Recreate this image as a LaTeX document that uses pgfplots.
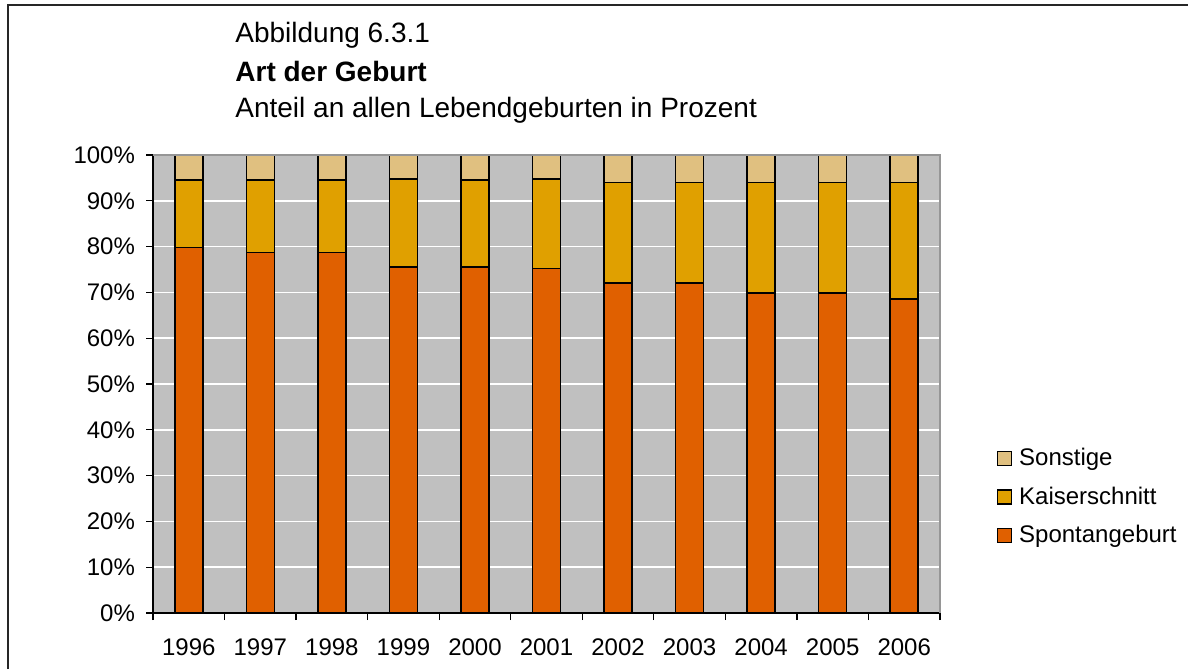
\documentclass[border=0pt]{standalone}
\usepackage{fontspec}
\setmainfont{Liberation Sans}
\usepackage{pgfplots}
\pgfplotsset{compat=1.18}
\definecolor{spont}{RGB}{224,96,0}
\definecolor{kaiser}{RGB}{224,160,0}
\definecolor{sonst}{RGB}{224,192,128}
\definecolor{bg}{RGB}{192,192,192}
\definecolor{frame}{RGB}{150,150,150}
\pgfplotsset{mylegend/.style={legend image code/.code={\draw[##1,draw=black,line width=0.7pt] (-1pt,-3.5pt) rectangle (6pt,3.5pt);}}}
\begin{document}
\begin{tikzpicture}
\path[use as bounding box] (0,0) rectangle (594pt,334.5pt);
\draw[line width=1pt, black!85] (4pt,0) -- (4pt,332pt) -- (594pt,332pt);
\node[anchor=base west, inner sep=0pt, font=\fontsize{14}{16}\selectfont] at (117.5pt,313pt) {Abbildung 6.3.1};
\node[anchor=base west, inner sep=0pt, font=\fontsize{14}{16}\selectfont\bfseries] at (117.5pt,293.5pt) {Art der Geburt};
\node[anchor=base west, inner sep=0pt, font=\fontsize{14}{16}\selectfont] at (117.5pt,275.5pt) {Anteil an allen Lebendgeburten in Prozent};
\begin{axis}[at={(76.5pt,28pt)}, anchor=south west, scale only axis,
  width=393.5pt, height=229pt,
  ybar stacked, bar width=14pt,
  xmin=-0.5, xmax=10.5, ymin=0, ymax=100,
  axis background/.style={fill=bg},
  axis x line*=bottom, axis y line*=left,
  axis line style={black, line width=0.8pt},
  xtick={-0.5,0.5,...,10.5},
  xticklabels={1996,1997,1998,1999,2000,2001,2002,2003,2004,2005,2006},
  x tick label as interval,
  ytick={0,10,...,100},
  yticklabels={0\%,10\%,20\%,30\%,40\%,50\%,60\%,70\%,80\%,90\%,100\%},
  ymajorgrids, major grid style={white, line width=0.8pt},
  tick align=outside, major tick length=3.5pt,
  tick style={black, line width=0.6pt},
  ticklabel style={font=\fontsize{12}{14}\selectfont},
  xticklabel style={yshift=-6pt},
  yticklabel style={xshift=-2pt},
  legend style={at={(1.064,0.253)}, anchor=west, draw=none, fill=none,
    font=\fontsize{12}{14}\selectfont, row sep=5pt,
    nodes={inner xsep=3.5pt}},
  legend cell align=left,
  reverse legend,
  every axis plot/.append style={draw=black, line width=0.8pt},
  after end axis/.code={\draw[frame, line width=1pt] (rel axis cs:0,1) -- (rel axis cs:1,1) -- (rel axis cs:1,0);},
]
\addplot[fill=spont, mylegend] coordinates {(0,79.8) (1,78.7) (2,78.7) (3,75.6) (4,75.6) (5,75.2) (6,72.1) (7,72.1) (8,69.9) (9,69.9) (10,68.6)};
\addplot[fill=kaiser, mylegend] coordinates {(0,14.7) (1,15.8) (2,15.8) (3,19.2) (4,18.9) (5,19.6) (6,21.9) (7,21.9) (8,24.1) (9,24.1) (10,25.4)};
\addplot[fill=sonst, mylegend] coordinates {(0,5.5) (1,5.5) (2,5.5) (3,5.2) (4,5.5) (5,5.2) (6,6.0) (7,6.0) (8,6.0) (9,6.0) (10,6.0)};
\legend{Spontangeburt,Kaiserschnitt,Sonstige}
\end{axis}
\end{tikzpicture}
\end{document}
